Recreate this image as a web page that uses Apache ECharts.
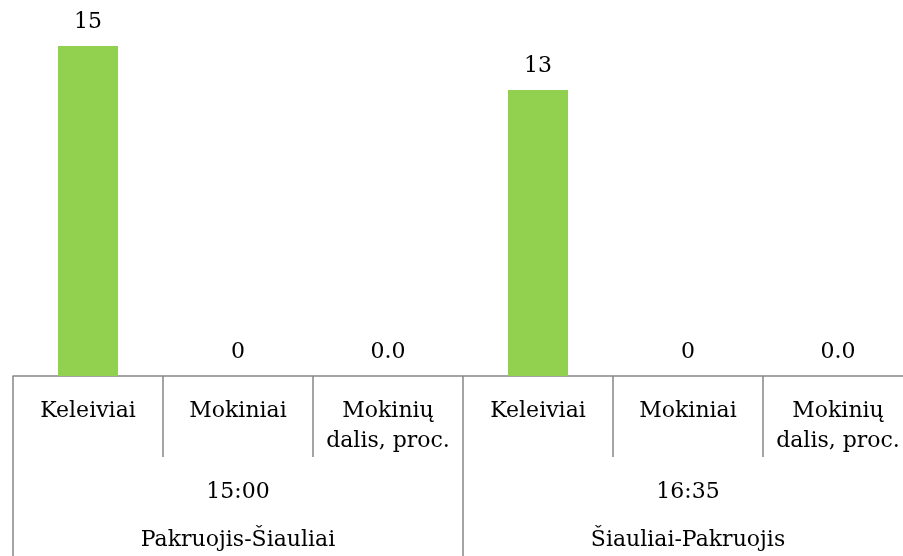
<!DOCTYPE html>
<html><head><meta charset="utf-8">
<script src="https://cdn.jsdelivr.net/npm/echarts@6/dist/echarts.min.js"></script>
<style>html,body{margin:0;padding:0;background:#fff}#c{width:903px;height:556px}</style>
</head><body><div id="c"></div>
<script>
const categories = ["Keleiviai","Mokiniai","Mokinių\ndalis, proc.","Keleiviai","Mokiniai","Mokinių\ndalis, proc."];
const groups = ["15:00\nPakruojis-Šiauliai","16:35\nŠiauliai-Pakruojis"];
const values = [15, 0, 0, 13, 0, 0];
const decimals = [0, 0, 1, 0, 0, 1];
const FONT = "DejaVu Serif";
const chart = echarts.init(document.getElementById('c'));
chart.setOption({
  animation:false,
  grid:{left:13, right:-10, top:46, bottom:180, containLabel:false, outerBoundsMode:'none'},
  xAxis:[{
    type:'category', data:categories, position:'bottom',
    axisLine:{show:true, lineStyle:{color:'#868686', width:1.5}},
    axisTick:{show:true, length:81, lineStyle:{color:'#868686', width:1.5}},
    axisLabel:{interval:0, margin:20, fontFamily:FONT, fontSize:22, color:'#000', lineHeight:30}
  },{
    type:'category', data:groups, position:'bottom',
    axisLine:{show:false},
    axisTick:{show:true, length:180, lineStyle:{color:'#868686', width:1.5}},
    axisLabel:{interval:0, margin:92, fontFamily:FONT, fontSize:22, color:'#000', lineHeight:48}
  }],
  yAxis:{type:'value', min:0, max:15, show:false, splitLine:{show:false}},
  series:[{
    type:'bar', data:values, xAxisIndex:0, barWidth:60,
    itemStyle:{color:'#92D050'},
    label:{show:true, position:'top', distance:13, fontFamily:FONT, fontSize:22, color:'#000',
      formatter:p=>p.value.toFixed(decimals[p.dataIndex])}
  }]
});
</script></body></html>
